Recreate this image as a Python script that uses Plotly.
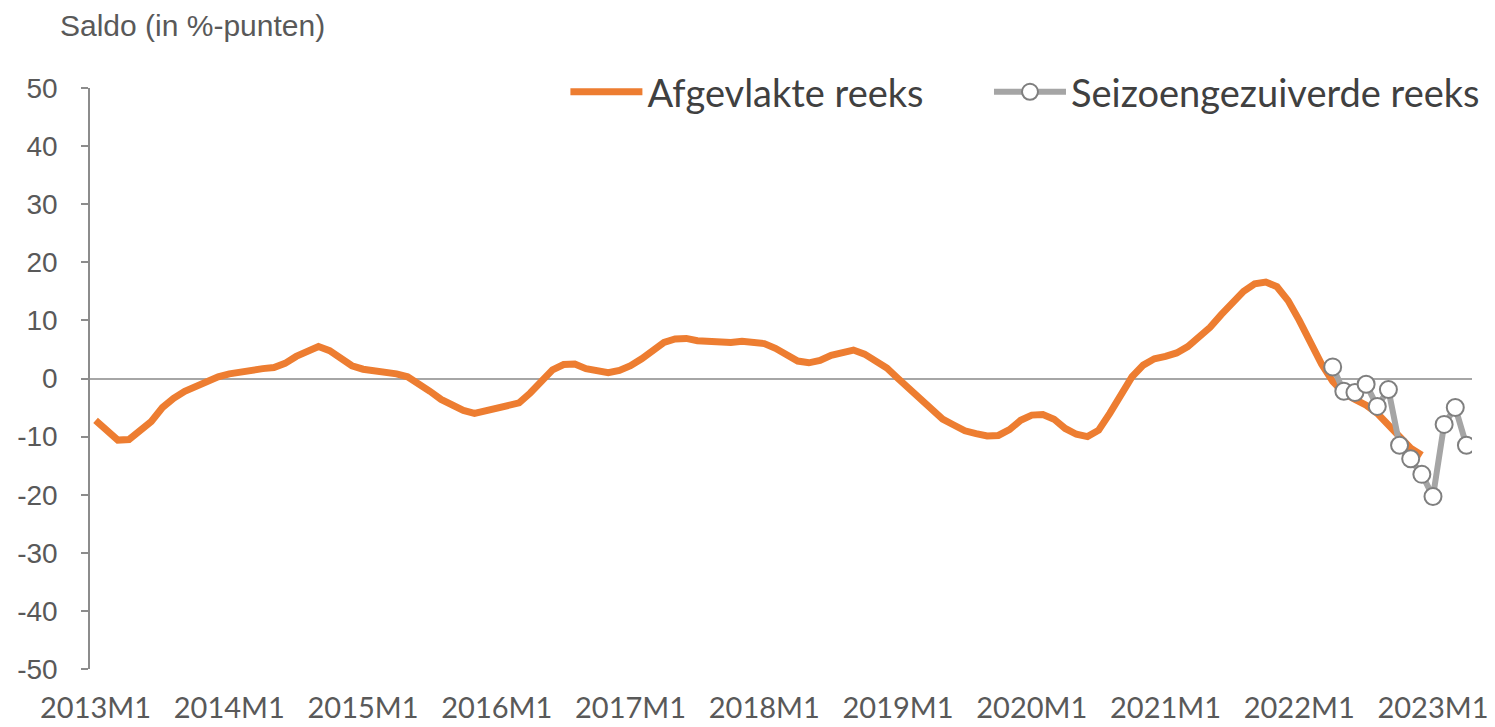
import plotly.graph_objects as go

years = list(range(2013, 2024))
months = [f"{y}M{m}" for y in years for m in range(1, 13)][:124]  # 2013M1 .. 2023M4

# Afgevlakte reeks: 2013M1 .. 2022M12
smoothed = [
    -7.2, -9.0, -10.6, -10.5, -9.0, -7.4, -5.0, -3.4, -2.2, -1.3, -0.6, 0.3,      # 2013
    0.8, 1.2, 1.4, 1.7, 1.9, 2.6, 3.8, 4.8, 5.5, 4.8, 3.6, 2.2,                   # 2014
    1.6, 1.4, 1.2, 0.8, 0.3, -0.8, -2.2, -3.6, -4.6, -5.5, -6.0, -5.6,            # 2015
    -5.2, -4.9, -4.2, -2.5, -0.3, 1.5, 2.4, 2.5, 1.7, 1.2, 1.0, 1.4,              # 2016
    2.2, 3.4, 4.8, 6.2, 6.8, 6.9, 6.5, 6.3, 6.1, 6.2, 6.4, 6.2,                   # 2017
    6.0, 5.2, 4.0, 3.0, 2.7, 3.1, 4.0, 4.6, 4.9, 4.2, 3.0, 1.8,                   # 2018
    0.0, -1.8, -3.3, -5.3, -7.0, -8.0, -9.0, -9.5, -9.9, -9.8, -8.8, -7.2,        # 2019
    -6.3, -6.2, -7.0, -8.6, -9.6, -10.0, -8.9, -6.0, -2.8, 0.3, 2.3, 3.4,         # 2020
    3.8, 4.4, 5.5, 7.0, 8.8, 11.0, 13.2, 15.0, 16.3, 16.6, 15.8, 13.4,            # 2021
    10.0, 6.2, 2.5, -0.5, -2.5, -3.6, -4.6, -6.0, -8.0, -10.2, -12.0, -13.2,      # 2022
]
smoothed_x = months[:len(smoothed)]

# Seizoengezuiverde reeks: 2022M4 .. 2023M4
adjusted_x = months[111:124]
adjusted = [2.0, -2.2, -2.4, -1.0, -4.8, -1.9, -11.5, -13.8, -16.5, -20.3, -7.9, -5.0, -11.5]

tick_labels = [f"{y}M1" for y in years]
y_ticks = [50, 40, 30, 20, 10, 0, -10, -20, -30, -40, -50]
y_tick_text = [str(v) for v in y_ticks]

fig = go.Figure()
fig.add_trace(go.Scatter(
    x=smoothed_x, y=smoothed, mode="lines", name="Afgevlakte reeks",
    line=dict(color="#ED7D31", width=7), legend="legend",
))
fig.add_trace(go.Scatter(
    x=adjusted_x, y=adjusted, mode="lines+markers", name="Seizoengezuiverde reeks",
    line=dict(color="#A5A5A5", width=6),
    marker=dict(size=17, color="white", line=dict(color="#7F7F7F", width=2)),
    legend="legend2",
))

legend_font = dict(family="Lato, Carlito, sans-serif", size=38, color="#404040")

fig.update_layout(
    width=1495, height=727,
    margin=dict(l=90, r=23, t=88, b=58, autoexpand=False),
    paper_bgcolor="white", plot_bgcolor="white",
    showlegend=True,
    legend=dict(
        orientation="h", x=0.344, xanchor="left", y=0.993, yanchor="middle",
        font=legend_font, bgcolor="rgba(0,0,0,0)", itemwidth=72,
    ),
    legend2=dict(
        orientation="h", x=0.6505, xanchor="left", y=0.993, yanchor="middle",
        font=legend_font, bgcolor="rgba(0,0,0,0)", itemwidth=72,
    ),
    annotations=[dict(
        text="Saldo (in %-punten)", xref="paper", yref="paper",
        x=-0.0235, y=1.0, xanchor="left", yanchor="bottom", yshift=44,
        showarrow=False,
        font=dict(family="Liberation Sans, Arial, sans-serif", size=30, color="#595959"),
    )],
)

fig.update_xaxes(
    type="category", categoryorder="array", categoryarray=months,
    range=[-0.5, len(months) - 0.5],
    tickmode="array", tickvals=tick_labels, ticktext=tick_labels,
    showgrid=False, showline=False, zeroline=False,
    ticks="outside", ticklen=13, tickcolor="rgba(0,0,0,0)",
    tickfont=dict(family="Lato, Carlito, sans-serif", size=29, color="#595959"),
    fixedrange=True,
)
fig.update_yaxes(
    range=[-50, 50], tickmode="array", tickvals=y_ticks, ticktext=y_tick_text,
    showgrid=False, showline=True, linecolor="#8C8C8C", linewidth=1.5,
    zeroline=True, zerolinecolor="#A6A6A6", zerolinewidth=1.5,
    ticks="outside", ticklen=7, tickcolor="#8C8C8C", tickwidth=1.5,
    ticklabelstandoff=18,
    tickfont=dict(family="Liberation Sans, Arial, sans-serif", size=28, color="#595959"),
    fixedrange=True,
)

fig.write_html(
    "out.html",
    config={"displayModeBar": False},
    post_script="document.body.style.margin='0';document.body.style.overflow='hidden';",
)
